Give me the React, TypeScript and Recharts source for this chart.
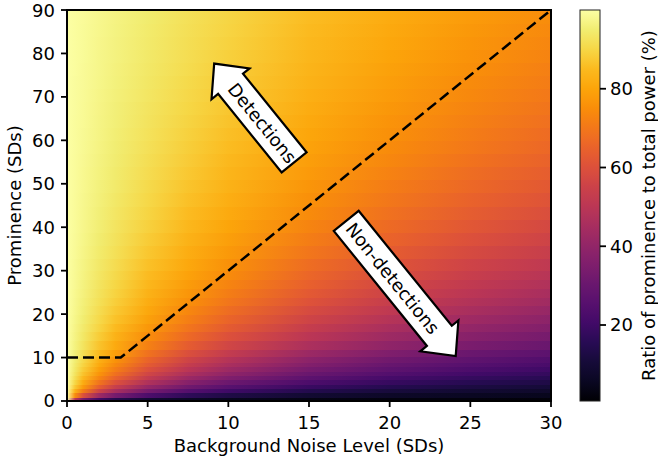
import React from 'react';
import { ComposedChart, XAxis, YAxis, ReferenceArea, ReferenceDot, Line, Label } from 'recharts';

// Background noise level (SDs) at which each row's colour is sampled
const noiseStops = [0, 0.5, 1, 2, 3, 5, 7.5, 10, 15, 20, 25, 30];
// Prominence (SDs) at the centre of each heatmap row
const prominenceRows = [
  0.5, 1.5, 2.5, 3.5, 4.5, 5.5, 6.5, 7.5, 8.5, 9.5,
  11, 13, 15, 17, 19, 21, 23, 25, 27, 29,
  31.5, 34.5, 37.5, 40.5, 43.5, 46.5, 49.5, 52.5, 55.5, 58.5,
  61.5, 64.5, 67.5, 70.5, 73.5, 76.5, 79.5, 82.5, 85.5, 88.5,
];
// Ratio of prominence to total power (%), one list per row, one value per noise stop
const ratioGrid = [
  [100, 50, 33.3, 20, 14.3, 9.1, 6.3, 4.8, 3.2, 2.4, 2.0, 1.6],
  [100, 75, 60, 42.9, 33.3, 23.1, 16.7, 13.0, 9.1, 7.0, 5.7, 4.8],
  [100, 83.3, 71.4, 55.6, 45.5, 33.3, 25, 20, 14.3, 11.1, 9.1, 7.7],
  [100, 87.5, 77.8, 63.6, 53.8, 41.2, 31.8, 25.9, 18.9, 14.9, 12.3, 10.4],
  [100, 90, 81.8, 69.2, 60, 47.4, 37.5, 31.0, 23.1, 18.4, 15.3, 13.0],
  [100, 91.7, 84.6, 73.3, 64.7, 52.4, 42.3, 35.5, 26.8, 21.6, 18.0, 15.5],
  [100, 92.9, 86.7, 76.5, 68.4, 56.5, 46.4, 39.4, 30.2, 24.5, 20.6, 17.8],
  [100, 93.8, 88.2, 78.9, 71.4, 60, 50, 42.9, 33.3, 27.3, 23.1, 20],
  [100, 94.4, 89.5, 81.0, 73.9, 63.0, 53.1, 45.9, 36.2, 29.8, 25.4, 22.1],
  [100, 95, 90.5, 82.6, 76, 65.5, 55.9, 48.7, 38.8, 32.2, 27.5, 24.1],
  [100, 95.7, 91.7, 84.6, 78.6, 68.8, 59.5, 52.4, 42.3, 35.5, 30.6, 26.8],
  [100, 96.3, 92.9, 86.7, 81.3, 72.2, 63.4, 56.5, 46.4, 39.4, 34.2, 30.2],
  [100, 96.8, 93.8, 88.2, 83.3, 75, 66.7, 60, 50, 42.9, 37.5, 33.3],
  [100, 97.1, 94.4, 89.5, 85, 77.3, 69.4, 63.0, 53.1, 45.9, 40.5, 36.2],
  [100, 97.4, 95, 90.5, 86.4, 79.2, 71.7, 65.5, 55.9, 48.7, 43.2, 38.8],
  [100, 97.7, 95.5, 91.3, 87.5, 80.8, 73.7, 67.7, 58.3, 51.2, 45.7, 41.2],
  [100, 97.9, 95.8, 92, 88.5, 82.1, 75.4, 69.7, 60.5, 53.5, 47.9, 43.4],
  [100, 98.0, 96.2, 92.6, 89.3, 83.3, 76.9, 71.4, 62.5, 55.6, 50, 45.5],
  [100, 98.2, 96.4, 93.1, 90, 84.4, 78.3, 73.0, 64.3, 57.4, 51.9, 47.4],
  [100, 98.3, 96.7, 93.5, 90.6, 85.3, 79.5, 74.4, 65.9, 59.2, 53.7, 49.2],
  [100, 98.4, 96.9, 94.0, 91.3, 86.3, 80.8, 75.9, 67.7, 61.2, 55.8, 51.2],
  [100, 98.6, 97.2, 94.5, 92, 87.3, 82.1, 77.5, 69.7, 63.3, 58.0, 53.5],
  [100, 98.7, 97.4, 94.9, 92.6, 88.2, 83.3, 78.9, 71.4, 65.2, 60, 55.6],
  [100, 98.8, 97.6, 95.3, 93.1, 89.0, 84.4, 80.2, 73.0, 66.9, 61.8, 57.4],
  [100, 98.9, 97.8, 95.6, 93.5, 89.7, 85.3, 81.3, 74.4, 68.5, 63.5, 59.2],
  [100, 98.9, 97.9, 95.9, 93.9, 90.3, 86.1, 82.3, 75.6, 69.9, 65.0, 60.8],
  [100, 99.0, 98.0, 96.1, 94.3, 90.8, 86.8, 83.2, 76.7, 71.2, 66.4, 62.3],
  [100, 99.1, 98.1, 96.3, 94.6, 91.3, 87.5, 84, 77.8, 72.4, 67.7, 63.6],
  [100, 99.1, 98.2, 96.5, 94.9, 91.7, 88.1, 84.7, 78.7, 73.5, 68.9, 64.9],
  [100, 99.2, 98.3, 96.7, 95.1, 92.1, 88.6, 85.4, 79.6, 74.5, 70.1, 66.1],
  [100, 99.2, 98.4, 96.9, 95.3, 92.5, 89.1, 86.0, 80.4, 75.5, 71.1, 67.2],
  [100, 99.2, 98.5, 97.0, 95.6, 92.8, 89.6, 86.6, 81.1, 76.3, 72.1, 68.3],
  [100, 99.3, 98.5, 97.1, 95.7, 93.1, 90, 87.1, 81.8, 77.1, 73.0, 69.2],
  [100, 99.3, 98.6, 97.2, 95.9, 93.4, 90.4, 87.6, 82.5, 77.9, 73.8, 70.1],
  [100, 99.3, 98.7, 97.4, 96.1, 93.6, 90.7, 88.0, 83.1, 78.6, 74.6, 71.0],
  [100, 99.4, 98.7, 97.5, 96.2, 93.9, 91.1, 88.4, 83.6, 79.3, 75.4, 71.8],
  [100, 99.4, 98.8, 97.5, 96.4, 94.1, 91.4, 88.8, 84.1, 79.9, 76.1, 72.6],
  [100, 99.4, 98.8, 97.6, 96.5, 94.3, 91.7, 89.2, 84.6, 80.5, 76.7, 73.3],
  [100, 99.4, 98.8, 97.7, 96.6, 94.5, 91.9, 89.5, 85.1, 81.0, 77.4, 74.0],
  [100, 99.4, 98.9, 97.8, 96.7, 94.7, 92.2, 89.8, 85.5, 81.6, 78.0, 74.7],
];
const xTicks = [0, 5, 10, 15, 20, 25, 30];
const yTicks = [0, 10, 20, 30, 40, 50, 60, 70, 80, 90];
const colorbarTicks = [20, 40, 60, 80];
const colorRange = [0.7, 100];
const thresholdLine = [
  { noise: 0, prominence: 10 },
  { noise: 3.33, prominence: 10 },
  { noise: 30, prominence: 90 },
];
const annotations = [
  { label: 'Detections', noise: 11.6, prominence: 66.3, pointsBack: true },
  { label: 'Non-detections', noise: 20.7, prominence: 25.9, pointsBack: false },
];

// inferno colormap, sampled every 0.05
const INFERNO = [
  '#000004', '#0a0722', '#160b39', '#280b54', '#420a68', '#57106e', '#6a176e', '#7f1e6c',
  '#932667', '#a82e5f', '#bc3754', '#cc4248', '#dd513a', '#ea632a', '#f37819', '#f98e09',
  '#fca50a', '#fbba1f', '#f6d746', '#f1ed71', '#fcffa4',
];
const hexToRgb = (h: string) => [parseInt(h.slice(1, 3), 16), parseInt(h.slice(3, 5), 16), parseInt(h.slice(5, 7), 16)];
const INF_RGB = INFERNO.map(hexToRgb);
function cmapT(t: number) {
  const tt = Math.max(0, Math.min(1, t)) * (INF_RGB.length - 1);
  const i = Math.min(Math.floor(tt), INF_RGB.length - 2);
  const f = tt - i;
  const a = INF_RGB[i], b = INF_RGB[i + 1];
  const c = a.map((v, k) => Math.round(v + (b[k] - v) * f));
  return `rgb(${c[0]},${c[1]},${c[2]})`;
}
const cmapV = (v: number) => cmapT((v - colorRange[0]) / (colorRange[1] - colorRange[0]));

const W = 658, H = 464;
const PLOT = { left: 67, top: 10, right: 551, bottom: 401 };
const FONT = 'DejaVu Sans, Verdana, sans-serif';

const rowBands = prominenceRows.map((p, i) => ({
  lo: i === 0 ? 0 : (prominenceRows[i - 1] + p) / 2,
  hi: i === prominenceRows.length - 1 ? 90 : (p + prominenceRows[i + 1]) / 2,
}));

const ARROW = { halfBody: 16, halfHead: 24.5, head: 26 };
const arrowLength: Record<string, number> = { 'Detections': 127, 'Non-detections': 174 };

function makeArrow(label: string, pointsBack: boolean) {
  return (props: any) => {
    const { cx, cy } = props;
    if (cx == null || cy == null) return <g />;
    const L = arrowLength[label];
    const { halfBody: hb, halfHead: hh, head: hd } = ARROW;
    const s = pointsBack ? -1 : 1;
    const pts = [
      [-L / 2, -hb], [L / 2 - hd, -hb], [L / 2 - hd, -hh], [L / 2, 0],
      [L / 2 - hd, hh], [L / 2 - hd, hb], [-L / 2, hb],
    ].map(([u, v]) => `${s * u},${v}`).join(' ');
    return (
      <g transform={`translate(${cx},${cy}) rotate(51)`}>
        <polygon points={pts} fill="#fff" stroke="#000" strokeWidth={2.2} strokeLinejoin="miter" />
        <text x={s * -hd / 2} y={0} dy="0.36em" textAnchor="middle" fontSize={18} fontFamily={FONT} fill="#000">{label}</text>
      </g>
    );
  };
}

export default function App() {
  const cbX = 580, cbW = 20;
  const cbY = (v: number) => PLOT.bottom - ((v - colorRange[0]) / (colorRange[1] - colorRange[0])) * (PLOT.bottom - PLOT.top);
  return (
    <div style={{ position: 'absolute', left: 0, top: 0, width: W, height: H, background: '#fff', fontFamily: FONT }}>
      <svg width={W} height={H} style={{ position: 'absolute', left: 0, top: 0, pointerEvents: 'none' }}>
        <defs>
          {ratioGrid.map((row, i) => (
            <linearGradient key={i} id={`row${i}`} x1="0" y1="0" x2="1" y2="0">
              {row.map((v, j) => (
                <stop key={j} offset={noiseStops[j] / 30} stopColor={cmapV(v)} />
              ))}
            </linearGradient>
          ))}
          <linearGradient id="cbar" x1="0" y1="1" x2="0" y2="0">
            {Array.from({ length: 41 }, (_, k) => (
              <stop key={k} offset={k / 40} stopColor={cmapT(k / 40)} />
            ))}
          </linearGradient>
        </defs>
        <rect x={cbX} y={PLOT.top} width={cbW} height={PLOT.bottom - PLOT.top} fill="url(#cbar)" stroke="#222" strokeWidth={1} />
        {colorbarTicks.map((t) => (
          <g key={t}>
            <line x1={cbX + cbW} x2={cbX + cbW + 6} y1={cbY(t)} y2={cbY(t)} stroke="#000" strokeWidth={1.8} />
            <text x={cbX + cbW + 10} y={cbY(t)} dy="0.36em" fontSize={18} fontFamily={FONT} fill="#000">{t}</text>
          </g>
        ))}
        <text transform={`translate(654.5, ${(PLOT.top + PLOT.bottom) / 2}) rotate(-90)`} textAnchor="middle" fontSize={18} fontFamily={FONT} fill="#000">
          Ratio of prominence to total power (%)
        </text>
      </svg>
      <div style={{ position: 'absolute', left: 0, top: 0 }}>
        <ComposedChart width={W} height={H} margin={{ top: PLOT.top, right: W - PLOT.right, bottom: 0, left: 0 }}>
          <XAxis
            dataKey="noise" type="number" domain={[0, 30]} ticks={xTicks} allowDataOverflow
            axisLine={false} tickLine={{ stroke: '#000', strokeWidth: 1.8 }} tickSize={6} tickMargin={9}
            tick={{ fill: '#000', fontSize: 18, fontFamily: FONT }} height={H - PLOT.bottom}
          >
            <Label content={(p: any) => {
              const vb = p.viewBox || { x: PLOT.left, y: PLOT.bottom, width: PLOT.right - PLOT.left };
              return <text x={vb.x + vb.width / 2} y={vb.y + 51} textAnchor="middle" fontSize={18} fontFamily={FONT} fill="#000">Background Noise Level (SDs)</text>;
            }} />
          </XAxis>
          <YAxis
            type="number" domain={[0, 90]} ticks={yTicks} allowDataOverflow
            axisLine={false} tickLine={{ stroke: '#000', strokeWidth: 1.8 }} tickSize={6} tickMargin={6}
            tick={{ fill: '#000', fontSize: 18, fontFamily: FONT }} width={PLOT.left}
          >
            <Label content={(p: any) => {
              const vb = p.viewBox || { x: 0, y: PLOT.top, height: PLOT.bottom - PLOT.top };
              const cy = vb.y + vb.height / 2;
              return <text transform={`translate(${vb.x + 21}, ${cy}) rotate(-90)`} textAnchor="middle" fontSize={18} fontFamily={FONT} fill="#000">Prominence (SDs)</text>;
            }} />
          </YAxis>
          {rowBands.map((b, i) => (
            <ReferenceArea
              key={`r${i}`} x1={0} x2={30} y1={b.lo} y2={b.hi} ifOverflow="hidden"
              fill={`url(#row${i})`} fillOpacity={1} stroke="none"
              shape={(p: any) => (
                <rect x={p.x} y={p.y} width={p.width} height={p.height + 1} fill={`url(#row${i})`} shapeRendering="crispEdges" />
              )}
            />
          ))}
          <Line
            data={thresholdLine} dataKey="prominence" type="linear" stroke="#000" strokeWidth={2.5}
            strokeDasharray="11 5" dot={false} activeDot={false} isAnimationActive={false}
          />
          <ReferenceArea x1={0} x2={30} y1={0} y2={90} fill="none" fillOpacity={0} stroke="#000" strokeWidth={2} />
          {annotations.map((a) => (
            <ReferenceDot key={a.label} x={a.noise} y={a.prominence} r={1} ifOverflow="visible" shape={makeArrow(a.label, a.pointsBack)} />
          ))}
        </ComposedChart>
      </div>
    </div>
  );
}
